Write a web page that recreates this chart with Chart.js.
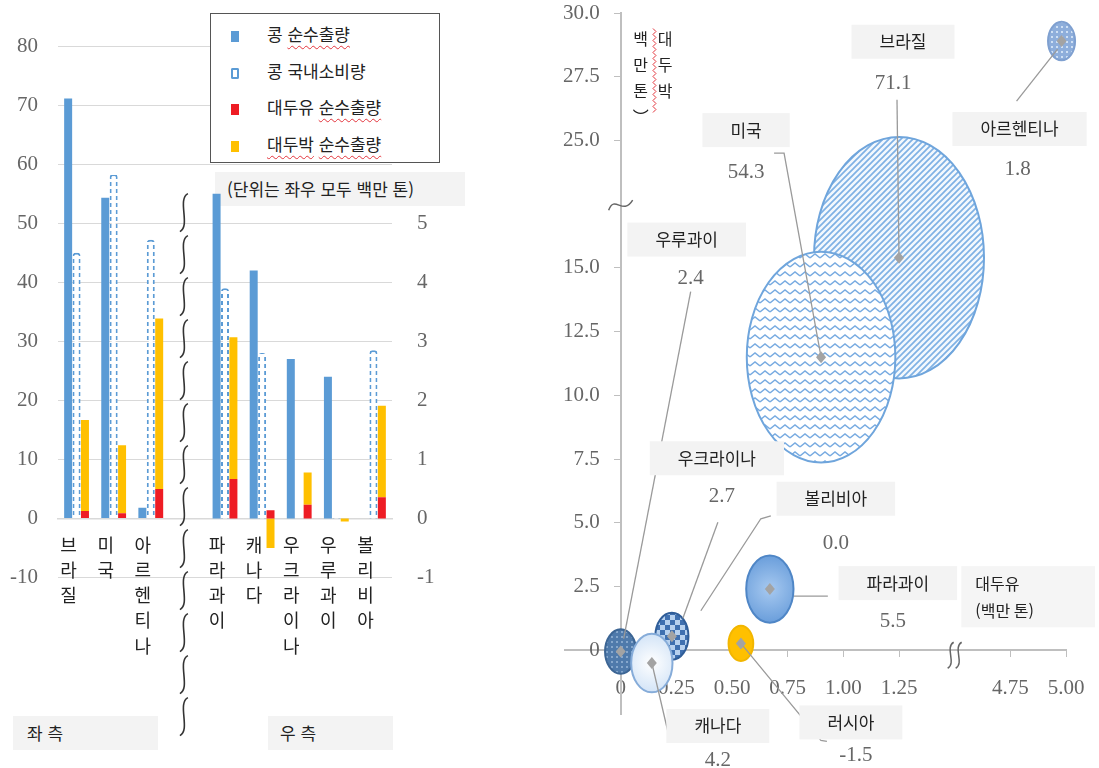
<!DOCTYPE html>
<html lang="ko">
<head>
<meta charset="UTF-8">
<title>남미·북미 콩 수출입</title>
<script src="https://cdn.jsdelivr.net/npm/chart.js@4.4.1/dist/chart.umd.min.js"></script>
<style>
  * { margin: 0; padding: 0; }
  body {
    width: 1099px; height: 768px; position: relative; overflow: hidden; background: #fff;
    font-family: "Noto Sans CJK KR", "Noto Sans", sans-serif; color: #222;
  }
  #barBox { position: absolute; left: 0; top: 0; }
  #bubbleBox { position: absolute; left: 500px; top: 0; }
  .legend {
    position: absolute; left: 210px; top: 13px; width: 228px; height: 148px;
    border: 1.5px solid #555; background: #fff;
  }
  .legend .row { position: absolute; left: 20px; height: 24px; line-height: 24px; font-size: 17px; white-space: nowrap; }
  .legend .mark { display: inline-block; width: 8px; height: 11px; margin-right: 28px; vertical-align: -1px; box-sizing: border-box; }
  .spell { text-decoration: underline wavy #e3343c 1px; text-underline-offset: 4px; }
  .note { position: absolute; background: #f3f3f3; font-size: 17px; line-height: 34px; height: 34px; white-space: nowrap; box-sizing: border-box; }
</style>
</head>
<body>
<!-- notes sit under the transparent chart canvases -->
<div class="note" style="left:215px; top:172px; width:250px; padding-left:12px;">(단위는 좌우 모두 백만 톤)</div>
<div class="note" style="left:13px; top:716px; width:145px; padding-left:14px;">좌 측</div>
<div class="note" style="left:268px; top:716px; width:125px; padding-left:12px;">우 측</div>
<canvas id="barBox" width="500" height="768"></canvas>
<canvas id="bubbleBox" width="599" height="768"></canvas>
<div class="legend" id="legend"></div>

<script>
// ---- data (백만 톤) ----
const countries = ['브라질', '미국', '아르헨티나', '파라과이', '캐나다', '우크라이나', '우루과이', '볼리비아', '러시아'];
const beanNetExport = [71.1, 54.3, 1.8, 5.5, 4.2, 2.7, 2.4, 0.0, -1.5];
const beanDomestic = [45.0, 58.3, 47.2, 3.9, 2.8, 0, 0.05, 2.85, null];
const oilNetExport = [1.25, 0.9, 4.98, 0.67, 0.14, 0.23, 0, 0.36, 0.54];
const mealNetExport = [15.4, 11.5, 28.9, 2.4, -0.5, 0.55, -0.05, 1.55, 0.27];
const seriesNames = ['콩 순수출량', '콩 국내소비량', '대두유 순수출량', '대두박 순수출량'];
const flaggedWords = ['순수출량', '대두박'];

const leftCount = 3;   // 좌측 축 국가 수
const barCount = 8;    // 러시아는 버블 차트에만

const BLUE = '#5b9bd5', RED = '#ee1c24', YELLOW = '#ffc000', GRID = '#d9d9d9', TICK = '#666';
const SERIF = "'Liberation Serif', 'DejaVu Serif', serif";
const KR = "'Noto Sans CJK KR', 'Noto Sans', sans-serif";

// tick padding should not push the plot area inwards
const noEdgePadding = s => { s.paddingTop = 0; s.paddingBottom = 0; s.paddingLeft = 0; s.paddingRight = 0; };

// ---- legend ----
const legendMarks = [
  'background:' + BLUE,
  'border:2px dashed ' + BLUE + ';border-radius:2px',
  'background:' + RED,
  'background:' + YELLOW
];
const legend = document.getElementById('legend');
seriesNames.forEach((name, i) => {
  const row = document.createElement('div');
  row.className = 'row';
  row.style.top = (8 + i * 36.5) + 'px';
  const words = name.split(' ').map(w => flaggedWords.includes(w) ? '<span class="spell">' + w + '</span>' : w);
  row.innerHTML = '<span class="mark" style="' + legendMarks[i] + '"></span>' + words.join(' ');
  legend.appendChild(row);
});

// ---- bar chart (left) ----
function makePattern(w, h, draw) {
  const c = document.createElement('canvas');
  c.width = w; c.height = h;
  const g = c.getContext('2d');
  draw(g, w, h);
  return g.createPattern(c, 'repeat');
}
const dashBlue = makePattern(4, 7, (g) => { g.fillStyle = BLUE; g.fillRect(0, 0, 4, 4); });

const barLabels = [...countries.slice(0, leftCount), '', ...countries.slice(leftCount, barCount)]
  .map(n => n ? n.split('') : ['']);

function onSide(values, left) {
  const l = values.slice(0, leftCount);
  const r = values.slice(leftCount, barCount);
  return left ? [...l, null, ...r.map(() => null)] : [...l.map(() => null), null, ...r];
}

const barDatasets = [];
[true, false].forEach(left => {
  const axis = left ? 'y' : 'y1';
  barDatasets.push(
    { label: seriesNames[0], data: onSide(beanNetExport, left), yAxisID: axis, stack: 'bean', backgroundColor: BLUE },
    { label: seriesNames[1], data: onSide(beanDomestic, left), yAxisID: axis, stack: 'use', backgroundColor: '#fff',
      borderColor: dashBlue, borderWidth: { left: 2, right: 2, top: 2 }, borderSkipped: 'bottom',
      borderRadius: { topLeft: 3, topRight: 3 } },
    { label: seriesNames[2], data: onSide(oilNetExport, left), yAxisID: axis, stack: 'prod', backgroundColor: RED },
    { label: seriesNames[3], data: onSide(mealNetExport, left), yAxisID: axis, stack: 'prod', backgroundColor: YELLOW }
  );
});

// wavy break between the two sides
const barBreak = {
  id: 'barBreak',
  afterDraw(chart) {
    const { ctx, scales: { x, y } } = chart;
    const cx = x.getPixelForValue(leftCount) - 4;
    const seg = 38;
    ctx.save();
    ctx.strokeStyle = '#333';
    ctx.lineWidth = 1.6;
    for (let t = y.getPixelForValue(55); t + seg <= chart.height - 28; t += seg + 4) {
      ctx.beginPath();
      ctx.moveTo(cx + 4, t);
      ctx.bezierCurveTo(cx - 7, t + seg * 0.15, cx + 7, t + seg * 0.85, cx - 4, t + seg);
      ctx.stroke();
    }
    ctx.restore();
  }
};

new Chart(document.getElementById('barBox'), {
  type: 'bar',
  data: { labels: barLabels, datasets: barDatasets },
  options: {
    responsive: false,
    animation: false,
    layout: { autoPadding: false, padding: { top: 16.5, bottom: 190.5 } },
    datasets: { bar: { skipNull: true, categoryPercentage: 0.68, barPercentage: 0.95 } },
    plugins: { legend: { display: false }, tooltip: { enabled: false } },
    scales: {
      x: {
        position: { y: 0 },
        afterFit: noEdgePadding,
        grid: { display: false, drawTicks: false },
        border: { color: GRID, width: 1.5 },
        ticks: {
          autoSkip: false, maxRotation: 0, padding: 14, labelOffset: -8, color: '#222',
          font: { family: KR, size: 18, lineHeight: 1.4 }
        }
      },
      y: {
        position: 'left', min: -10, max: 85,
        afterBuildTicks: s => { s.ticks = s.ticks.filter(t => t.value <= 80); },
        afterFit: s => { noEdgePadding(s); s.width = 58; },
        grid: { color: GRID, drawTicks: false },
        border: { display: false },
        ticks: { stepSize: 10, padding: 20, color: TICK, font: { family: SERIF, size: 21 } }
      },
      y1: {
        position: 'right', min: -1, max: 8.5,
        afterBuildTicks: s => { s.ticks = s.ticks.filter(t => t.value <= 5); },
        afterFit: s => { noEdgePadding(s); s.width = 108; },
        grid: { display: false, drawTicks: false },
        border: { display: false },
        ticks: { stepSize: 1, padding: 25, color: TICK, font: { family: SERIF, size: 21 } }
      }
    }
  },
  plugins: [barBreak]
});

// ---- bubble chart (right) ----
// axis breaks: x values from 4.75 and y values from 25.0 are drawn shifted past the break
const xBreak = { at: 1.5, shift: 3 };
const yBreak = { at: 17.5, shift: 5 };
const toX = v => v > xBreak.at + xBreak.shift ? v - xBreak.shift : v;
const toY = v => v > yBreak.at + yBreak.shift ? v - yBreak.shift : v;
const near = (a, b) => Math.abs(a - b) < 1e-6;

const bubbleMax = 85;     // radius (px) of the largest bubble
const stretch = 1.42;     // bubbles are drawn as tall ellipses
const beanMax = Math.max(...beanNetExport.map(Math.abs));
const drawOrder = [0, 1, 2, 3, 5, 6, 4, 7, 8];   // 캐나다 in front of its neighbours

const dots = (bg, dot) => makePattern(5, 5, (g) => { g.fillStyle = bg; g.fillRect(0, 0, 5, 5); g.fillStyle = dot; g.fillRect(1, 1, 2, 2); });
const stripes = makePattern(6, 6, (g) => {
  g.fillStyle = '#f3f8fd'; g.fillRect(0, 0, 6, 6);
  g.strokeStyle = '#7fb1e4'; g.lineWidth = 1.7;
  g.beginPath(); g.moveTo(-1, 7); g.lineTo(7, -1); g.moveTo(-1, 1); g.lineTo(1, -1); g.moveTo(5, 7); g.lineTo(7, 5); g.stroke();
});
const zigzag = makePattern(10, 9, (g) => {
  g.fillStyle = '#fff'; g.fillRect(0, 0, 10, 9);
  g.strokeStyle = '#78abe1'; g.lineWidth = 1.4;
  g.beginPath(); g.moveTo(0, 6); g.lineTo(5, 2); g.lineTo(10, 6); g.stroke();
});
const checker = makePattern(10, 10, (g) => {
  g.fillStyle = '#b7d1ef'; g.fillRect(0, 0, 10, 10);
  g.fillStyle = '#3f70b0'; g.fillRect(0, 0, 5, 5); g.fillRect(5, 5, 5, 5);
});
function radial(inner, outer) {
  return (ctx, x, y, r) => {
    const gr = ctx.createRadialGradient(x, y, 0, x, y, r * stretch);
    gr.addColorStop(0, inner); gr.addColorStop(1, outer);
    return gr;
  };
}
const bubbleFill = [
  () => stripes, () => zigzag, () => dots('#8eaedb', '#cfe0f4'), radial('#a7c9f0', '#6a9edb'),
  radial('#ffffff', '#d3e4f7'), () => checker, () => dots('#4f7aab', '#86a7cc'), () => '#fff', () => YELLOW
];
const bubbleEdge = ['#6fa5dc', '#6fa5dc', '#7fa0d0', '#4f86c6', '#86acd9', '#2f5d98', '#3c6594', '#999', '#f2b600'];

// label positions relative to each bubble centre: name box, value, leader polyline
const bubbleNotes = [
  { name: [4, -216], value: [-6, -174], line: [[-2, -158], [0, 0]] },
  { name: [-75, -227], value: [-75, -185], line: [[-47, -204], [-37, -204], [0, 0]] },
  { name: [-42, 88], value: [-44, 128], line: [[-4, 8], [-45, 60]] },
  { name: [128, -6], value: [123, 32], line: [[24, 7], [58, 7]] },
  { name: [66, 63], value: [66, 97], line: [[0, 0], [18, 77], [29, 77]] },
  { name: [45, -178], value: [50, -140], line: [[46, -114], [11, -18]] },
  { name: [66, -412], value: [70, -373], line: [[70, -360], [3, -13]] },
  { name: [135, -112], value: [135, -67], line: [[70, -95], [60, -92], [0, 0]] },
  { name: [110, 79], value: [115, 112], line: [[0, 0], [80, 97], [86, 98]] }
];

function squiggle(ctx, cx, top, h) {
  ctx.beginPath();
  ctx.moveTo(cx + 3, top);
  ctx.bezierCurveTo(cx - 6, top + h * 0.2, cx + 6, top + h * 0.8, cx - 3, top + h);
  ctx.stroke();
}

const bubbleArt = {
  id: 'bubbleArt',
  afterDatasetsDraw(chart) {
    const { ctx } = chart;
    const pts = chart.getDatasetMeta(0).data;
    drawOrder.forEach(i => {
      const pt = pts[i];
      const r = pt.options.radius;
      if (r < 1) return;
      ctx.save();
      ctx.beginPath();
      ctx.ellipse(pt.x, pt.y, r, r * stretch, 0, 0, Math.PI * 2);
      ctx.fillStyle = bubbleFill[i](ctx, pt.x, pt.y, r);
      ctx.fill();
      ctx.lineWidth = 2;
      ctx.strokeStyle = bubbleEdge[i];
      ctx.stroke();
      ctx.restore();
    });
  },
  afterDraw(chart) {
    const { ctx, scales: { x, y } } = chart;
    const pts = chart.getDatasetMeta(0).data;
    ctx.save();
    // leaders
    ctx.strokeStyle = '#9a9a9a';
    ctx.lineWidth = 1.3;
    pts.forEach((pt, i) => {
      const n = bubbleNotes[i];
      ctx.beginPath();
      n.line.forEach(([dx, dy], k) => k ? ctx.lineTo(pt.x + dx, pt.y + dy) : ctx.moveTo(pt.x + dx, pt.y + dy));
      ctx.stroke();
    });
    // centre markers
    ctx.fillStyle = '#a3a3a3';
    pts.forEach((pt, i) => {
      if (pt.options.radius < 1) return;
      ctx.beginPath();
      ctx.moveTo(pt.x, pt.y - 6); ctx.lineTo(pt.x + 5, pt.y); ctx.lineTo(pt.x, pt.y + 6); ctx.lineTo(pt.x - 5, pt.y);
      ctx.fill();
    });
    // names and values
    ctx.textAlign = 'center';
    ctx.textBaseline = 'middle';
    pts.forEach((pt, i) => {
      const n = bubbleNotes[i];
      const nx = pt.x + n.name[0], ny = pt.y + n.name[1];
      ctx.font = '17px ' + KR;
      const w = ctx.measureText(countries[i]).width + 56;
      ctx.fillStyle = '#f3f3f3';
      ctx.fillRect(nx - w / 2, ny - 17, w, 34);
      ctx.fillStyle = '#222';
      ctx.fillText(countries[i], nx, ny);
      ctx.font = '21px ' + SERIF;
      ctx.fillStyle = TICK;
      ctx.fillText(beanNetExport[i].toFixed(1), pt.x + n.value[0], pt.y + n.value[1]);
    });
    // axis breaks
    ctx.strokeStyle = '#666';
    ctx.lineWidth = 1.5;
    const bx = x.getPixelForValue(xBreak.at), by = y.getPixelForValue(0);
    squiggle(ctx, bx - 4, by - 8, 26);
    squiggle(ctx, bx + 4, by - 8, 26);
    const ax = x.getPixelForValue(0), ay = y.getPixelForValue(yBreak.at);
    ctx.beginPath();
    ctx.moveTo(ax - 12, ay + 6);
    ctx.bezierCurveTo(ax - 6, ay - 10, ax + 2, ay + 12, ax + 12, ay - 4);
    ctx.stroke();
    // x title
    const tx = x.getPixelForValue(1.53), ty = y.getPixelForValue(3.3);
    ctx.fillStyle = '#f5f5f5';
    ctx.fillRect(tx, ty, chart.width - tx - 4, y.getPixelForValue(0.9) - ty);
    ctx.fillStyle = '#222';
    ctx.textAlign = 'left';
    ctx.font = '16px ' + KR;
    ctx.fillText('대두유', tx + 14, ty + 18);
    ctx.fillText('(백만 톤)', tx + 14, ty + 45);
    // y title, vertical columns
    ctx.textAlign = 'center';
    const c1 = x.getPixelForValue(0.2), c2 = x.getPixelForValue(0.09), top = y.getPixelForValue(24);
    ['대', '두', '박'].forEach((ch, k) => ctx.fillText(ch, c1, top + k * 26));
    ['백', '만', '톤', '︶'].forEach((ch, k) => ctx.fillText(ch, c2, top + k * 26));
    ctx.strokeStyle = '#e3343c';
    ctx.lineWidth = 1;
    ctx.beginPath();
    const wx = (c1 + c2) / 2 + 1;
    for (let k = 0; k <= 28; k++) ctx.lineTo(wx + (k % 2 ? 2 : -1), top - 10 + k * 3);
    ctx.stroke();
    ctx.restore();
  }
};

const hiddenX = v => v < -1e-6 || near(v, xBreak.at);
const hiddenY = v => v < -1e-6 || near(v, yBreak.at);
// y labels of an axis placed at x = 0 are right-aligned on the axis line; keep a gap
const yGap = '    ';

new Chart(document.getElementById('bubbleBox'), {
  type: 'bubble',
  data: {
    datasets: [{
      label: '콩 순수출량',
      data: countries.map((c, i) => ({ x: toX(oilNetExport[i]), y: toY(mealNetExport[i]) })),
      radius: ctx => bubbleMax * Math.sqrt(Math.abs(beanNetExport[ctx.dataIndex]) / beanMax),
      backgroundColor: 'rgba(0,0,0,0)',
      borderWidth: 0,
      clip: false
    }]
  },
  options: {
    responsive: false,
    animation: false,
    layout: { autoPadding: false, padding: { left: 65, right: 33, top: 13, bottom: 54 } },
    plugins: { legend: { display: false }, tooltip: { enabled: false } },
    scales: {
      x: {
        type: 'linear', min: -0.25, max: 2.0, position: { y: 0 },
        afterFit: noEdgePadding,
        grid: { drawOnChartArea: false, tickLength: 6, color: c => hiddenX(c.tick.value) ? 'rgba(0,0,0,0)' : '#bfbfbf' },
        border: { color: '#bfbfbf', width: 2 },
        ticks: {
          stepSize: 0.25, padding: 20, color: TICK, font: { family: SERIF, size: 21 }, autoSkip: false, maxRotation: 0,
          callback: v => {
            if (hiddenX(v)) return '';
            if (v > xBreak.at) v += xBreak.shift;
            return near(v, 0) ? '0' : v.toFixed(2);
          }
        }
      },
      y: {
        type: 'linear', min: -2.5, max: 25, position: { x: 0 },
        afterFit: noEdgePadding,
        grid: { drawOnChartArea: false, tickLength: 6, color: c => hiddenY(c.tick.value) ? 'rgba(0,0,0,0)' : '#bfbfbf' },
        border: { color: '#bfbfbf', width: 2 },
        ticks: {
          stepSize: 2.5, padding: 14, color: TICK, font: { family: SERIF, size: 21 }, autoSkip: false,
          callback: v => {
            if (hiddenY(v)) return '';
            if (v > yBreak.at) v += yBreak.shift;
            return (near(v, 0) ? '0' : v.toFixed(1)) + yGap;
          }
        }
      }
    }
  },
  plugins: [bubbleArt]
});
</script>
</body>
</html>
